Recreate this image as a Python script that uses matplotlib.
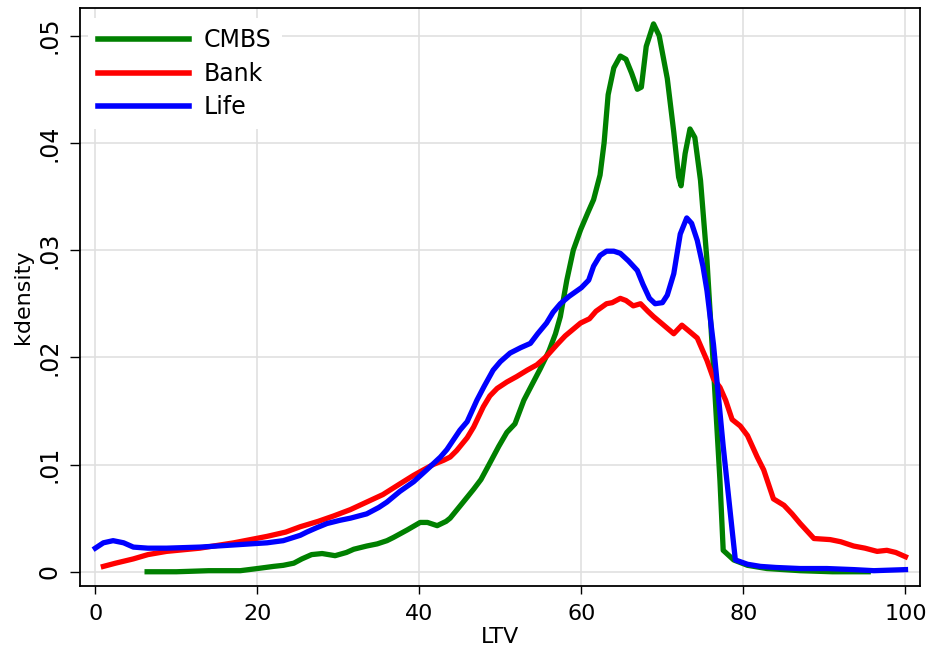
import numpy as np
import matplotlib
matplotlib.use('Agg')
import matplotlib.pyplot as plt
from matplotlib.ticker import FuncFormatter

# kernel density of LTV by lender type
cmbs_x = [6.4, 10, 14, 17.9, 20, 22, 23.2, 24.5, 25.5, 26.7, 28, 29.6, 31.0, 31.9, 33.5, 34.8,
          36.0, 36.8, 38.5, 40.1, 41.0, 42.2, 43.3, 43.8, 45.2, 46.7, 47.6, 48.6, 49.8, 50.8,
          51.8, 52.9, 54.0, 54.9, 56.0, 56.8, 57.4, 58.2, 59.0, 59.9, 60.8, 61.5, 62.3, 62.8,
          63.3, 64.0, 64.8, 65.5, 66.2, 66.9, 67.4, 68.0, 68.9, 69.6, 70.6, 71.4, 72.0, 72.3,
          72.8, 73.4, 74.0, 74.7, 75.5, 76.3, 77.1, 77.5, 78.8, 80.5, 82.9, 87.0, 91.0, 95.4]
cmbs_y = [0.0000, 0.0000, 0.0001, 0.0001, 0.0003, 0.0005, 0.0006, 0.0008, 0.0012, 0.0016,
          0.0017, 0.0015, 0.0018, 0.0021, 0.0024, 0.0026, 0.0029, 0.0032, 0.0039, 0.0046,
          0.0046, 0.0043, 0.0047, 0.0050, 0.0063, 0.0077, 0.0086, 0.0100, 0.0117, 0.0130,
          0.0138, 0.0160, 0.0176, 0.0189, 0.0206, 0.0222, 0.0238, 0.0272, 0.0300, 0.0319,
          0.0335, 0.0347, 0.0370, 0.0400, 0.0445, 0.0470, 0.0481, 0.0478, 0.0465, 0.0450,
          0.0452, 0.0490, 0.0511, 0.0500, 0.0460, 0.0410, 0.0368, 0.0360, 0.0390, 0.0413,
          0.0405, 0.0365, 0.0290, 0.0190, 0.0085, 0.0020, 0.0011, 0.0006, 0.0003, 0.0001,
          0.0000, 0.0000]

bank_x = [1.0, 2.5, 4.7, 6.5, 8.8, 12.9, 17.1, 21.2, 23.5, 25.3, 27.5, 29.4, 31.5, 33.5, 35.5,
          37.6, 39.3, 40.5, 41.7, 43.0, 43.8, 44.6, 45.9, 46.7, 47.9, 48.7, 49.6, 50.8, 52.0,
          53.3, 54.5, 55.7, 57.0, 58.0, 59.9, 61.0, 61.8, 63.1, 63.8, 64.8, 65.5, 66.4, 67.3,
          68.2, 68.9, 70.0, 71.4, 72.4, 73.2, 74.3, 75.5, 76.3, 77.1, 77.8, 78.6, 79.6, 80.5,
          81.7, 82.5, 83.7, 85.0, 86.0, 87.0, 88.7, 90.7, 92.0, 93.6, 95.0, 96.5, 97.7, 98.8, 100]
bank_y = [0.0005, 0.0008, 0.0012, 0.0016, 0.0019, 0.0022, 0.0027, 0.0033, 0.0037, 0.0042,
          0.0047, 0.0052, 0.0058, 0.0065, 0.0072, 0.0082, 0.0090, 0.0095, 0.0100, 0.0104,
          0.0107, 0.0113, 0.0125, 0.0135, 0.0154, 0.0164, 0.0171, 0.0177, 0.0182, 0.0188,
          0.0193, 0.0201, 0.0212, 0.0220, 0.0232, 0.0236, 0.0243, 0.0250, 0.0251, 0.0255,
          0.0253, 0.0248, 0.0250, 0.0243, 0.0238, 0.0231, 0.0222, 0.0230, 0.0225, 0.0218,
          0.0197, 0.0180, 0.0172, 0.0160, 0.0142, 0.0136, 0.0127, 0.0107, 0.0095, 0.0068,
          0.0062, 0.0054, 0.0045, 0.0031, 0.0030, 0.0028, 0.0024, 0.0022, 0.0019, 0.0020,
          0.0018, 0.0014]

life_x = [0.0, 1.0, 2.2, 3.5, 4.7, 6.5, 8.8, 12.9, 17.1, 21.2, 23.2, 25.3, 26.1, 27.3, 28.6,
          30.2, 31.5, 33.5, 35.0, 36.0, 37.6, 39.3, 40.9, 42.6, 43.4, 45.0, 45.9, 47.1, 48.0,
          49.1, 50.0, 51.2, 52.5, 53.7, 54.6, 55.7, 56.5, 57.4, 58.5, 60.0, 60.9, 61.5, 62.3,
          63.1, 64.0, 64.8, 65.8, 66.9, 67.6, 68.4, 69.1, 70.0, 70.6, 71.4, 72.2, 73.0, 73.6,
          74.3, 75.0, 75.5, 76.3, 77.5, 78.6, 79.0, 80.5, 82.1, 84.0, 87.0, 90.3, 93.6, 96.1, 100]
life_y = [0.0022, 0.0027, 0.0029, 0.0027, 0.0023, 0.0022, 0.0022, 0.0023, 0.0025, 0.0027,
          0.0029, 0.0034, 0.0037, 0.0041, 0.0045, 0.0048, 0.0050, 0.0054, 0.0060, 0.0065,
          0.0075, 0.0084, 0.0095, 0.0107, 0.0114, 0.0132, 0.0140, 0.0160, 0.0173, 0.0188,
          0.0196, 0.0204, 0.0209, 0.0213, 0.0222, 0.0232, 0.0242, 0.0250, 0.0257, 0.0265,
          0.0272, 0.0285, 0.0295, 0.0299, 0.0299, 0.0297, 0.0290, 0.0281, 0.0268, 0.0255,
          0.0250, 0.0251, 0.0258, 0.0278, 0.0315, 0.0330, 0.0325, 0.0309, 0.0285, 0.0262,
          0.0212, 0.0117, 0.0039, 0.0011, 0.0007, 0.0005, 0.0004, 0.0003, 0.0003, 0.0002,
          0.0001, 0.0002]

xticks = [0, 20, 40, 60, 80, 100]
yticks = [0, 0.01, 0.02, 0.03, 0.04, 0.05]

fig = plt.figure(figsize=(9.34, 6.52), dpi=100)
ax = fig.add_axes([0.0857, 0.1012, 0.8994, 0.8865])

ax.plot(cmbs_x, cmbs_y, color='green', lw=3.8, label='CMBS', solid_joinstyle='round')
ax.plot(bank_x, bank_y, color='red', lw=3.8, label='Bank', solid_joinstyle='round')
ax.plot(life_x, life_y, color='blue', lw=3.8, label='Life', solid_joinstyle='round')

ax.set_xlim(-1.88, 101.8)
ax.set_ylim(-0.00133, 0.05258)
ax.set_xticks(xticks)
ax.set_yticks(yticks)

def ylab(v, pos):
    s = '%.2f' % v
    if s == '0.00':
        return '0'
    return s.lstrip('0')

ax.yaxis.set_major_formatter(FuncFormatter(ylab))
ax.tick_params(axis='x', labelsize=16, length=6, width=1, direction='out', pad=7)
ax.tick_params(axis='y', labelsize=17, length=7, width=1, direction='out', pad=6)
for lbl in ax.get_yticklabels():
    lbl.set_rotation(90)
    lbl.set_va('center')

ax.grid(True, color='#e0e0e0', lw=1.2)
ax.set_axisbelow(True)
for sp in ax.spines.values():
    sp.set_linewidth(1.3)
    sp.set_color('black')

ax.set_xlabel('LTV', fontsize=16, labelpad=2)
ax.set_ylabel('kdensity', fontsize=16, labelpad=3.5)

leg = ax.legend(loc='upper left', bbox_to_anchor=(0.0095, 0.982), borderaxespad=0,
                fontsize=17, handlelength=3.85, handletextpad=0.64, labelspacing=0.4,
                borderpad=0.42, frameon=True, fancybox=False, framealpha=1)
leg.get_frame().set_edgecolor('white')
leg.get_frame().set_linewidth(0)
for ln in leg.get_lines():
    ln.set_linewidth(4)

plt.savefig('out.png', dpi=100)
